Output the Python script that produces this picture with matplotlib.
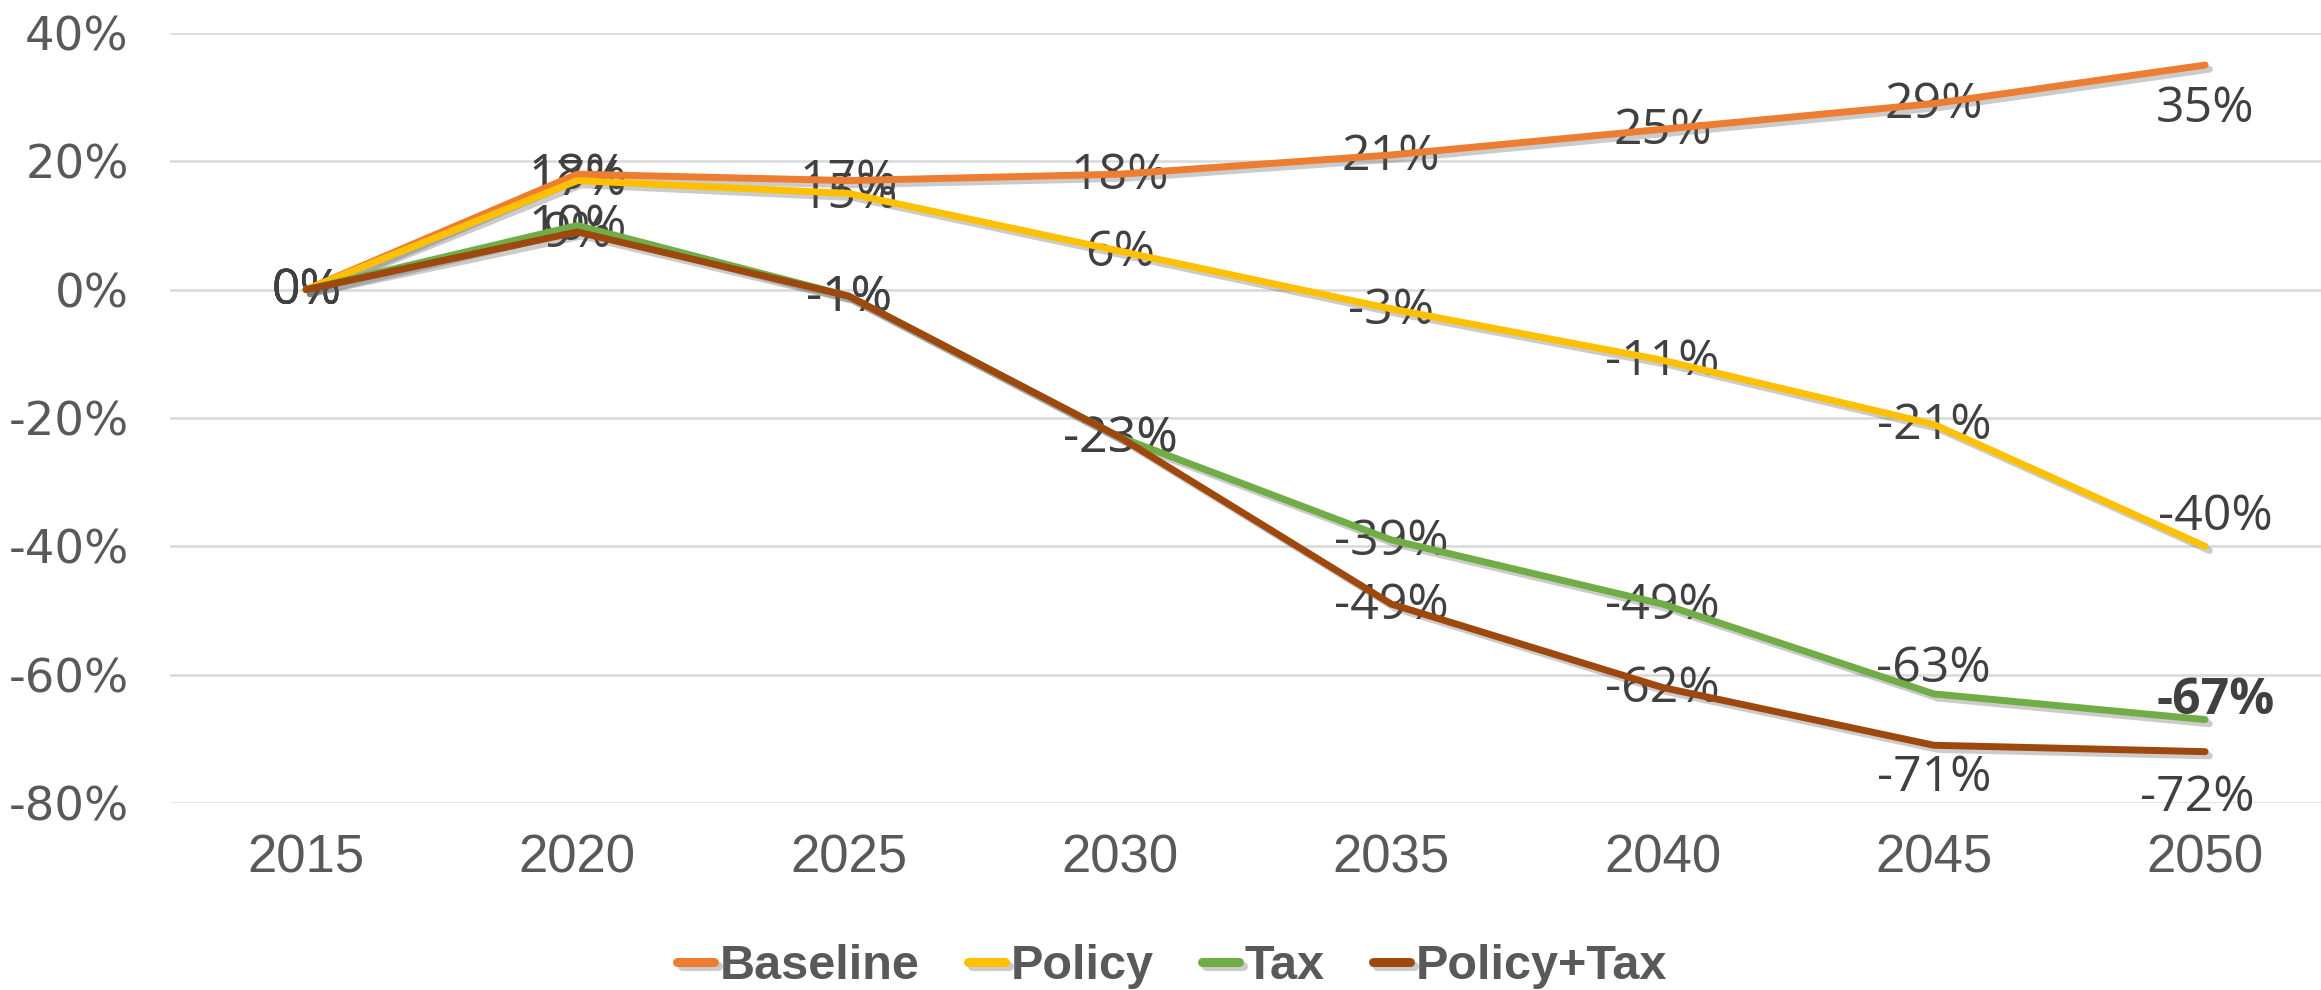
import matplotlib
matplotlib.use("Agg")
import matplotlib.pyplot as plt
import matplotlib.patheffects as pe
from matplotlib.ticker import FuncFormatter

YEARS = ["2015", "2020", "2025", "2030", "2035", "2040", "2045", "2050"]

BASELINE   = [0, 18, 17, 18, 21, 25, 29, 35]
POLICY     = [0, 17, 15, 6, -3, -11, -21, -40]
TAX        = [0, 10, -1, -23, -39, -49, -63, -67]
POLICY_TAX = [0, 9, -1, -23, -49, -62, -71, -72]

SERIES = [
    ("Baseline",   BASELINE,   "#ED7D31"),
    ("Policy",     POLICY,     "#FFC000"),
    ("Tax",        TAX,        "#70AD47"),
    ("Policy+Tax", POLICY_TAX, "#9E480E"),
]

# labels that sit above/below their point instead of centred on it: (dx px, dy in %)
LABEL_SHIFT = {
    ("Baseline", 7):   (0, -6.5),
    ("Policy", 7):     (10, 4.8),
    ("Tax", 6):        (0, 4.2),
    ("Tax", 7):        (10, 3.2),
    ("Policy+Tax", 6): (0, -4.8),
    ("Policy+Tax", 7): (-8, -6.9),
}
BOLD_LABELS = {("Tax", 7)}

TXT = "#404040"
AXIS_TXT = "#595959"

fig = plt.figure(figsize=(23.21, 9.90), dpi=100, facecolor="white")
ax = fig.add_axes([170.4 / 2321, 1 - 803 / 990, 2170.4 / 2321, 770 / 990])

x = list(range(len(YEARS)))
shadow = [pe.SimpleLineShadow(offset=(3, -3), alpha=0.3, shadow_color="#555555"),
          pe.Normal()]

for name, vals, color in SERIES:
    ax.plot(x, vals, color=color, linewidth=5, solid_capstyle="round",
            solid_joinstyle="round", label=name, zorder=3, path_effects=shadow)

# data labels
for name, vals, color in SERIES:
    for i, v in enumerate(vals):
        dx, dy = LABEL_SHIFT.get((name, i), (0, 0))
        ax.annotate(f"{v}%", xy=(i, v + dy), xytext=(dx, -2), textcoords="offset pixels",
                    ha="center", va="center", fontsize=36, color=TXT,
                    family="Open Sans",
                    fontweight="bold" if (name, i) in BOLD_LABELS else "normal",
                    zorder=2)

ax.set_xlim(-0.5, len(YEARS) - 0.5)
ax.set_ylim(-80, 40)
ax.set_yticks(range(-80, 41, 20))
ax.yaxis.set_major_formatter(FuncFormatter(lambda v, _: f"{v:.0f}%"))
ax.set_xticks(x)
ax.set_xticklabels(YEARS)

ax.grid(axis="y", color="#D9D9D9", linewidth=1.8, zorder=0)
ax.set_axisbelow(True)
for s in ax.spines.values():
    s.set_visible(False)
ax.tick_params(axis="both", length=0)
ax.tick_params(axis="x", pad=22, labelsize=38, labelcolor=AXIS_TXT)
ax.tick_params(axis="y", pad=30, labelsize=33.5, labelcolor=AXIS_TXT)
for lbl in ax.get_xticklabels():
    lbl.set_family("Liberation Sans")
for lbl in ax.get_yticklabels():
    lbl.set_family("DejaVu Sans")

leg = fig.legend(loc="center", bbox_to_anchor=(0.505, 0.024), ncol=4, frameon=False,
                 handlelength=0.75, handletextpad=0.12, columnspacing=1.0,
                 borderpad=0.1, prop={"family": "Liberation Sans", "weight": "bold", "size": 35})
for h in leg.legend_handles:
    h.set_linewidth(6.5)
    h.set_solid_capstyle("round")
for t in leg.get_texts():
    t.set_color(AXIS_TXT)

fig.savefig("out.png", dpi=100, facecolor="white")
